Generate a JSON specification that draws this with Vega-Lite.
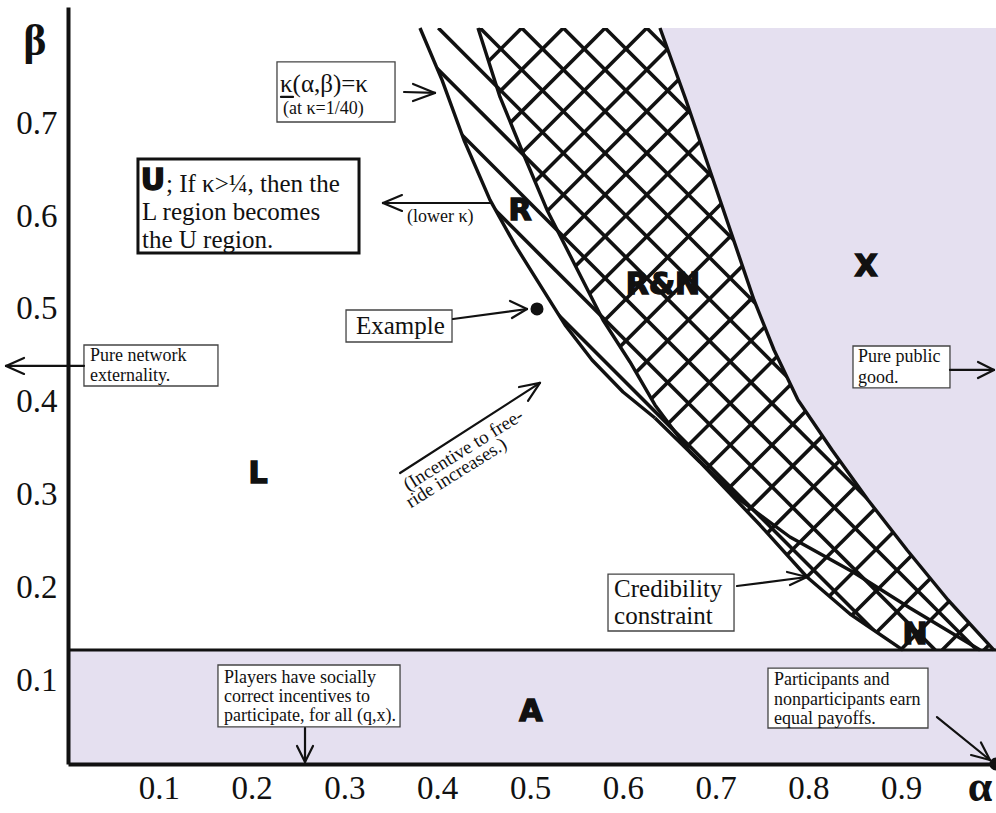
{
"$schema": "https://vega.github.io/schema/vega-lite/v6.json",
"width": 928, "height": 757,
"autosize": {"type": "none"},
"padding": {"left": 68, "top": 7, "right": 0, "bottom": 49},
"background": "white",
"config": {"view": {"stroke": null}},
"datasets": {
"slash": [
{"a":0.4440,"b":0.7931,"a2":-0.2263,"b2":0.1228},{"a":0.4889,"b":0.7931,"a2":-0.1814,"b2":0.1228},{"a":0.5338,"b":0.7931,"a2":-0.1364,"b2":0.1228},{"a":0.5788,"b":0.7931,"a2":-0.0915,"b2":0.1228},{"a":0.6237,"b":0.7931,"a2":-0.0466,"b2":0.1228},{"a":0.6686,"b":0.7931,"a2":-0.0016,"b2":0.1228},{"a":0.7136,"b":0.7931,"a2":0.0433,"b2":0.1228},{"a":0.7585,"b":0.7931,"a2":0.0883,"b2":0.1228},{"a":0.8034,"b":0.7931,"a2":0.1332,"b2":0.1228},{"a":0.8484,"b":0.7931,"a2":0.1781,"b2":0.1228},{"a":0.8933,"b":0.7931,"a2":0.2231,"b2":0.1228},{"a":0.9383,"b":0.7931,"a2":0.2680,"b2":0.1228},{"a":0.9832,"b":0.7931,"a2":0.3129,"b2":0.1228},{"a":1.0281,"b":0.7931,"a2":0.3579,"b2":0.1228},{"a":1.0731,"b":0.7931,"a2":0.4028,"b2":0.1228},{"a":1.1180,"b":0.7931,"a2":0.4477,"b2":0.1228},{"a":1.1629,"b":0.7931,"a2":0.4927,"b2":0.1228},{"a":1.2079,"b":0.7931,"a2":0.5376,"b2":0.1228},{"a":1.2528,"b":0.7931,"a2":0.5825,"b2":0.1228},{"a":1.2977,"b":0.7931,"a2":0.6275,"b2":0.1228},{"a":1.3427,"b":0.7931,"a2":0.6724,"b2":0.1228},{"a":1.3876,"b":0.7931,"a2":0.7174,"b2":0.1228},{"a":1.4325,"b":0.7931,"a2":0.7623,"b2":0.1228},{"a":1.4775,"b":0.7931,"a2":0.8072,"b2":0.1228},{"a":1.5224,"b":0.7931,"a2":0.8522,"b2":0.1228},{"a":1.5674,"b":0.7931,"a2":0.8971,"b2":0.1228},{"a":1.6123,"b":0.7931,"a2":0.9420,"b2":0.1228},{"a":1.6572,"b":0.7931,"a2":0.9870,"b2":0.1228}
],
"back": [
{"a":0.2193,"b":0.7931,"a2":0.8895,"b2":0.1228},{"a":0.2642,"b":0.7931,"a2":0.9345,"b2":0.1228},{"a":0.3092,"b":0.7931,"a2":0.9794,"b2":0.1228},{"a":0.3541,"b":0.7931,"a2":1.0244,"b2":0.1228},{"a":0.3990,"b":0.7931,"a2":1.0693,"b2":0.1228},{"a":0.4440,"b":0.7931,"a2":1.1142,"b2":0.1228},{"a":0.4889,"b":0.7931,"a2":1.1592,"b2":0.1228},{"a":0.5338,"b":0.7931,"a2":1.2041,"b2":0.1228},{"a":0.5788,"b":0.7931,"a2":1.2490,"b2":0.1228},{"a":0.6237,"b":0.7931,"a2":1.2940,"b2":0.1228}
],
"maskA": [
{"b":0.8157,"a":0.4418},{"b":0.7931,"a":0.4418},{"b":0.7188,"a":0.4655},{"b":0.6584,"a":0.4903},{"b":0.5970,"a":0.5162},{"b":0.5377,"a":0.5463},{"b":0.4784,"a":0.5765},{"b":0.4332,"a":0.6056},{"b":0.3869,"a":0.6325},{"b":0.3362,"a":0.6703},{"b":0.3254,"a":0.6810},{"b":0.2575,"a":0.7457},{"b":0.2015,"a":0.7963},{"b":0.1616,"a":0.8427},{"b":0.1228,"a":0.8998},{"b":0.10,"a":0.8998}
],
"maskB": [
{"b":0.8157,"a":0.3793},{"b":0.7931,"a":0.3793},{"b":0.7371,"a":0.4030},{"b":0.6724,"a":0.4267},{"b":0.6078,"a":0.4547},{"b":0.5593,"a":0.4817},{"b":0.5162,"a":0.5086},{"b":0.4731,"a":0.5356},{"b":0.4353,"a":0.5647},{"b":0.4009,"a":0.5981},{"b":0.3728,"a":0.6325},{"b":0.3254,"a":0.6810},{"b":0.2575,"a":0.7457},{"b":0.2015,"a":0.7963},{"b":0.1616,"a":0.8427},{"b":0.1228,"a":0.8998},{"b":0.10,"a":0.8998}
],
"xreg": [
{"b":0.7931,"a":0.6379},{"b":0.7155,"a":0.6659},{"b":0.6078,"a":0.7026},{"b":0.5000,"a":0.7392},{"b":0.4461,"a":0.7608},{"b":0.3922,"a":0.7866},{"b":0.3384,"a":0.8233},{"b":0.2845,"a":0.8621},{"b":0.2306,"a":0.9041},{"b":0.1767,"a":0.9483},{"b":0.1228,"a":0.9978},{"b":0.10,"a":0.9978}
],
"topMask": [{"a":0,"a2":1,"b":0.7931,"b2":0.8157}],
"bandA": [{"a":0,"a2":1,"b":0,"b2":0.1228}],
"bandLine": [{"a":0,"a2":1,"b":0.1228,"b2":0.1228}],
"curves": [
{"c":"C1","a":0.3793,"b":0.7931},{"c":"C1","a":0.4030,"b":0.7371},{"c":"C1","a":0.4267,"b":0.6724},{"c":"C1","a":0.4547,"b":0.6078},{"c":"C1","a":0.4817,"b":0.5593},{"c":"C1","a":0.5086,"b":0.5162},{"c":"C1","a":0.5356,"b":0.4731},{"c":"C1","a":0.5647,"b":0.4353},{"c":"C1","a":0.5981,"b":0.4009},{"c":"C1","a":0.6325,"b":0.3728},
{"c":"C2","a":0.4418,"b":0.7931},{"c":"C2","a":0.4655,"b":0.7188},{"c":"C2","a":0.4903,"b":0.6584},{"c":"C2","a":0.5162,"b":0.5970},{"c":"C2","a":0.5463,"b":0.5377},{"c":"C2","a":0.5765,"b":0.4784},{"c":"C2","a":0.6056,"b":0.4332},{"c":"C2","a":0.6325,"b":0.3869},{"c":"C2","a":0.6703,"b":0.3362},{"c":"C2","a":0.6810,"b":0.3254},
{"c":"L","a":0.6325,"b":0.3728},{"c":"L","a":0.6810,"b":0.3254},{"c":"L","a":0.7457,"b":0.2575},{"c":"L","a":0.7963,"b":0.2015},{"c":"L","a":0.8427,"b":0.1616},{"c":"L","a":0.8998,"b":0.1228},
{"c":"N","a":0.6703,"b":0.3362},{"c":"N","a":0.7241,"b":0.2845},{"c":"N","a":0.7780,"b":0.2446},{"c":"N","a":0.8459,"b":0.2069},{"c":"N","a":0.9073,"b":0.1681},{"c":"N","a":0.9828,"b":0.1228},
{"c":"R","a":0.6379,"b":0.7931},{"c":"R","a":0.6659,"b":0.7155},{"c":"R","a":0.7026,"b":0.6078},{"c":"R","a":0.7392,"b":0.5000},{"c":"R","a":0.7608,"b":0.4461},{"c":"R","a":0.7866,"b":0.3922},{"c":"R","a":0.8233,"b":0.3384},{"c":"R","a":0.8621,"b":0.2845},{"c":"R","a":0.9041,"b":0.2306},{"c":"R","a":0.9483,"b":0.1767},{"c":"R","a":0.9978,"b":0.1228}
],
"boxThin": [
{"a":0.2252,"a2":0.3524,"b":0.6918,"b2":0.7565},
{"a":0.2996,"a2":0.4138,"b":0.4547,"b2":0.4892},
{"a":0.0172,"a2":0.1616,"b":0.4073,"b2":0.4515},
{"a":0.8459,"a2":0.9504,"b":0.4052,"b2":0.4504},
{"a":0.5819,"a2":0.7177,"b":0.1433,"b2":0.2047},
{"a":0.1616,"a2":0.3578,"b":0.0399,"b2":0.1067},
{"a":0.7543,"a2":0.9267,"b":0.0388,"b2":0.1034}
],
"boxThick": [{"a":0.0754,"a2":0.3136,"b":0.5506,"b2":0.6519}],
"arrows": [
{"a":0.3621,"b":0.7241,"a2":0.3955,"b2":0.7231},{"a":0.3718,"b":0.7328,"a2":0.3955,"b2":0.7231},{"a":0.3718,"b":0.7144,"a2":0.3955,"b2":0.7231},
{"a":0.4569,"b":0.6045,"a2":0.3394,"b2":0.6045},{"a":0.3599,"b":0.6131,"a2":0.3394,"b2":0.6045},{"a":0.3599,"b":0.5959,"a2":0.3394,"b2":0.6045},
{"a":0.4149,"b":0.4795,"a2":0.4946,"b2":0.4903},{"a":0.4763,"b":0.4989,"a2":0.4946,"b2":0.4903},{"a":0.4784,"b":0.4806,"a2":0.4946,"b2":0.4903},
{"a":0.3578,"b":0.3136,"a2":0.5086,"b2":0.4106},{"a":0.4860,"b":0.4062,"a2":0.5086,"b2":0.4106},{"a":0.4957,"b":0.3912,"a2":0.5086,"b2":0.4106},
{"a":0.0172,"b":0.4289,"a2":-0.0668,"b2":0.4289},{"a":-0.0474,"b":0.4375,"a2":-0.0668,"b2":0.4289},{"a":-0.0474,"b":0.4203,"a2":-0.0668,"b2":0.4289},
{"a":0.9504,"b":0.4246,"a2":0.9978,"b2":0.4246},{"a":0.9806,"b":0.4332,"a2":0.9978,"b2":0.4246},{"a":0.9806,"b":0.4159,"a2":0.9978,"b2":0.4246},
{"a":0.2554,"b":0.0388,"a2":0.2554,"b2":0.0022},{"a":0.2468,"b":0.0194,"a2":0.2554,"b2":0.0022},{"a":0.2640,"b":0.0194,"a2":0.2554,"b2":0.0022},
{"a":0.9364,"b":0.0506,"a2":0.9935,"b2":0.0043},{"a":0.9731,"b":0.0097,"a2":0.9935,"b2":0.0043},{"a":0.9838,"b":0.0232,"a2":0.9935,"b2":0.0043},
{"a":0.7209,"b":0.1918,"a2":0.7963,"b2":0.2015},{"a":0.7748,"b":0.2069,"a2":0.7963,"b2":0.2015},{"a":0.7780,"b":0.1929,"a2":0.7963,"b2":0.2015},
{"a":0.2295,"b":0.7188,"a2":0.2425,"b2":0.7188}
],
"dots": [{"a":0.5054,"b":0.4903},{"a":1.0,"b":0.0}],
"txtSmall": [
{"a":0.0237,"b":0.4397,"t":"Pure network"},{"a":0.0237,"b":0.4181,"t":"externality."},
{"a":0.8513,"b":0.4386,"t":"Pure public"},{"a":0.8513,"b":0.4159,"t":"good."},
{"a":0.1681,"b":0.0927,"t":"Players have socially"},{"a":0.1681,"b":0.0722,"t":"correct incentives to"},{"a":0.1681,"b":0.0517,"t":"participate, for all (q,x)."},
{"a":0.7608,"b":0.0905,"t":"Participants and"},{"a":0.7608,"b":0.0690,"t":"nonparticipants earn"},{"a":0.7608,"b":0.0485,"t":"equal payoffs."}
],
"txtMid": [{"a":0.2317,"b":0.7058,"t":"(at κ=1/40)"},{"a":0.3653,"b":0.5894,"t":"(lower κ)"}],
"txt24": [{"a":0.3103,"b":0.4720,"t":"Example"},{"a":0.5884,"b":0.1886,"t":"Credibility"},{"a":0.5884,"b":0.1595,"t":"constraint"},
{"a":0.1056,"b":0.6250,"t":"; If κ>¼, then the"},{"a":0.0797,"b":0.5948,"t":"L region becomes"},{"a":0.0797,"b":0.5647,"t":"the U region."}],
"txtK": [{"a":0.2284,"b":0.7327,"t":"κ(α,β)=κ"}],
"txtRot": [{"a":0.4260,"b":0.3385,"t":"(Incentive to free-"},{"a":0.4184,"b":0.3137,"t":"ride increases.)"}],
"txtBold": [{"a":0.0916,"b":0.6282,"t":"U"},{"a":0.4871,"b":0.5959,"t":"R"},{"a":0.6412,"b":0.5162,"t":"R&N"},{"a":0.8599,"b":0.5356,"t":"X"},{"a":0.2047,"b":0.3125,"t":"L"},{"a":0.4989,"b":0.0560,"t":"A"},{"a":0.9127,"b":0.1390,"t":"N"}],
"txtTitle": [{"a":-0.0356,"b":0.778,"t":"β"},{"a":0.9828,"b":-0.0255,"t":"α"}]
},
"encoding": {
"x": {"field":"a","type":"quantitative","scale":{"domain":[0,1],"nice":false,"zero":false},
 "axis":{"values":[0.1,0.2,0.3,0.4,0.5,0.6,0.7,0.8,0.9],"format":".1f","title":null,"grid":false,"ticks":false,"domainColor":"#111","domainWidth":4,"labelFont":"Liberation Serif","labelFontSize":33,"labelColor":"#111","labelPadding":8,"labelOffset":-2,"labelOverlap":false,"labelFlush":false,"zindex":1}},
"y": {"field":"b","type":"quantitative","scale":{"domain":[0,0.8157],"nice":false,"zero":false},
 "axis":{"values":[0.1,0.2,0.3,0.4,0.5,0.6,0.7],"format":".1f","title":null,"grid":false,"ticks":false,"domainColor":"#111","domainWidth":4,"labelFont":"Liberation Serif","labelFontSize":33,"labelColor":"#111","labelPadding":11,"labelOffset":9,"labelOverlap":false,"labelFlush":false,"zindex":1}}
},
"layer": [
{"data":{"name":"slash"},"mark":{"type":"rule","clip":true,"color":"#111","strokeWidth":3.6},"encoding":{"x2":{"field":"a2"},"y2":{"field":"b2"}}},
{"data":{"name":"maskA"},"mark":{"type":"area","orient":"horizontal","color":"white","opacity":1,"clip":true},"encoding":{"x2":{"datum":0}}},
{"data":{"name":"back"},"mark":{"type":"rule","clip":true,"color":"#111","strokeWidth":3.6},"encoding":{"x2":{"field":"a2"},"y2":{"field":"b2"}}},
{"data":{"name":"maskB"},"mark":{"type":"area","orient":"horizontal","color":"white","opacity":1,"clip":true},"encoding":{"x2":{"datum":0}}},
{"data":{"name":"xreg"},"mark":{"type":"area","orient":"horizontal","color":"#e5e0f0","opacity":1,"clip":true},"encoding":{"x2":{"datum":1}}},
{"data":{"name":"topMask"},"mark":{"type":"rect","color":"white","opacity":1},"encoding":{"x2":{"field":"a2"},"y2":{"field":"b2"}}},
{"data":{"name":"bandA"},"mark":{"type":"rect","color":"#e5e0f0","opacity":1},"encoding":{"x2":{"field":"a2"},"y2":{"field":"b2"}}},
{"data":{"name":"bandLine"},"mark":{"type":"rule","color":"#111","strokeWidth":3},"encoding":{"x2":{"field":"a2"},"y2":{"field":"b2"}}},
{"data":{"name":"curves"},"mark":{"type":"line","color":"#111","strokeWidth":3.4,"strokeJoin":"round"},"encoding":{"detail":{"field":"c"}}},
{"data":{"name":"boxThin"},"mark":{"type":"rect","fill":"white","stroke":"#444","strokeWidth":1.3,"opacity":1},"encoding":{"x2":{"field":"a2"},"y2":{"field":"b2"}}},
{"data":{"name":"boxThick"},"mark":{"type":"rect","fill":"white","stroke":"#111","strokeWidth":3,"opacity":1},"encoding":{"x2":{"field":"a2"},"y2":{"field":"b2"}}},
{"data":{"name":"arrows"},"mark":{"type":"rule","color":"#111","strokeWidth":2.2,"strokeCap":"round"},"encoding":{"x2":{"field":"a2"},"y2":{"field":"b2"}}},
{"data":{"name":"dots"},"mark":{"type":"point","filled":true,"color":"#111","size":170,"opacity":1}},
{"data":{"name":"txtSmall"},"mark":{"type":"text","font":"Liberation Serif","fontSize":18,"align":"left","baseline":"middle","color":"#111"},"encoding":{"text":{"field":"t"}}},
{"data":{"name":"txtMid"},"mark":{"type":"text","font":"Liberation Serif","fontSize":18,"align":"left","baseline":"middle","color":"#111"},"encoding":{"text":{"field":"t"}}},
{"data":{"name":"txt24"},"mark":{"type":"text","font":"Liberation Serif","fontSize":25,"align":"left","baseline":"middle","color":"#111"},"encoding":{"text":{"field":"t"}}},
{"data":{"name":"txtK"},"mark":{"type":"text","font":"Liberation Serif","fontSize":25,"align":"left","baseline":"middle","color":"#111"},"encoding":{"text":{"field":"t"}}},
{"data":{"name":"txtRot"},"mark":{"type":"text","font":"Liberation Serif","fontSize":19,"align":"center","baseline":"middle","angle":328,"color":"#111"},"encoding":{"text":{"field":"t"}}},
{"data":{"name":"txtBold"},"mark":{"type":"text","font":"DejaVu Sans","fontWeight":"bold","fontSize":30,"align":"center","baseline":"middle","color":"#111","stroke":"#111","strokeWidth":1.5},"encoding":{"text":{"field":"t"}}},
{"data":{"name":"txtTitle"},"mark":{"type":"text","font":"Liberation Serif","fontWeight":"bold","fontSize":44,"align":"center","baseline":"middle","color":"#111"},"encoding":{"text":{"field":"t"}}}
]
}
